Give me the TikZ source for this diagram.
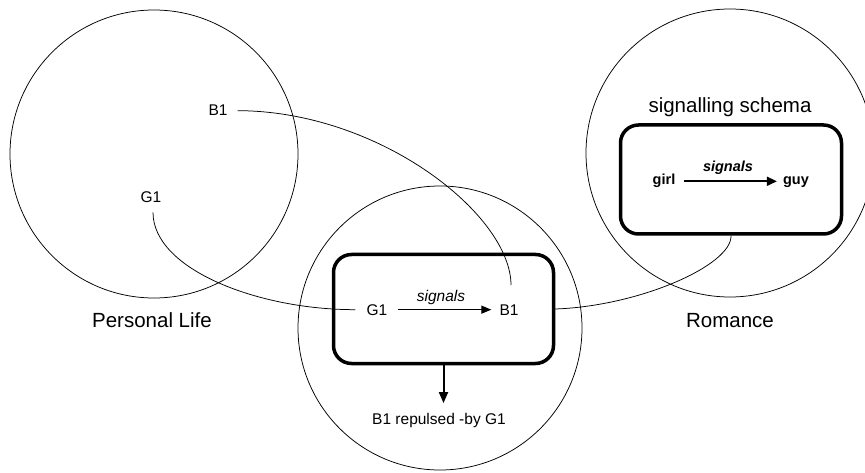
\documentclass[tikz,border=0pt]{standalone}
\usepackage{fontspec}
\setmainfont{Liberation Sans}
\usetikzlibrary{arrows.meta}

\begin{document}
\begin{tikzpicture}[x=1pt,y=-1pt,
  ring/.style={draw, circle, line width=0.75pt, inner sep=0pt},
  frame/.style={draw, rounded corners=18pt, line width=3.5pt, minimum width=220pt, minimum height=109pt, inner sep=0pt},
  big/.style={font=\fontsize{20.5}{24}\selectfont, inner sep=0pt, anchor=base},
  small/.style={font=\fontsize{15.5}{18}\selectfont, inner sep=0pt, anchor=base},
  tag/.style={font=\fontsize{15.5}{18}\selectfont\itshape, inner sep=0pt, anchor=base},
  bsmall/.style={font=\fontsize{14.5}{17}\selectfont\bfseries, inner sep=0pt, anchor=base},
  btag/.style={font=\fontsize{14.5}{17}\selectfont\bfseries\itshape, inner sep=0pt, anchor=base},
  link/.style={line width=0.75pt},
]
\useasboundingbox (0,0) rectangle (865,473);

% the three domains
\node[ring, minimum size=288pt] (life) at (154,154) {};
\node[ring, minimum size=284pt] (blend) at (440,328) {};
\node[ring, minimum size=288pt] (romance) at (730,153) {};

\node[big] (plife) at (152,327) {Personal Life};
\node[big] (rom) at (730,327) {Romance};
\node[big] (schema) at (730,113) {signalling schema};

% elements of the personal-life domain
\node[small] (b1a) at (218,116) {B1};
\node[small] (g1a) at (151,203) {G1};

% blended frame
\node[frame] (box1) at (443.5,309) {};
\node[small] (g1b) at (377,315) {G1};
\node[small] (b1b) at (509,315) {B1};
\node[tag] (sig1) at (441,301.5) {signals};
\draw[line width=1.2pt, -{Triangle[length=10pt,width=8pt]}, shorten <=10pt, shorten >=8pt]
  (g1b.east) -- (g1b.east -| b1b.west);

\node[small] (rep) at (439,424.5) {B1 repulsed -by G1};
\draw[line width=2pt, -{Triangle[length=11pt,width=9pt]}, shorten >=10pt]
  (box1.south) -- (box1.south |- rep.north);

% schema frame
\node[frame, minimum width=221pt] (box2) at (731,179.5) {};
\node[bsmall] (girl) at (664,185) {girl};
\node[bsmall] (guy) at (796,185) {guy};
\node[btag] (sig2) at (728,172) {signals};
\draw[line width=1.7pt, -{Triangle[length=10pt,width=9pt]}, shorten <=9pt, shorten >=6pt]
  (girl.east) -- (girl.east -| guy.west);

% mappings
\draw[link] ([shift={(10,0)}]b1a.east) .. controls (380,111) and (511,215) .. ([shift={(2,-19)}]b1b.north);
\draw[link] ([shift={(2,9)}]g1a.south) .. controls (153,270) and (260,310) .. ([shift={(-11,0)}]g1b.west);
\draw[link] (box1.east) .. controls (640,306) and (732,265) .. (box2.south);
\end{tikzpicture}
\end{document}
